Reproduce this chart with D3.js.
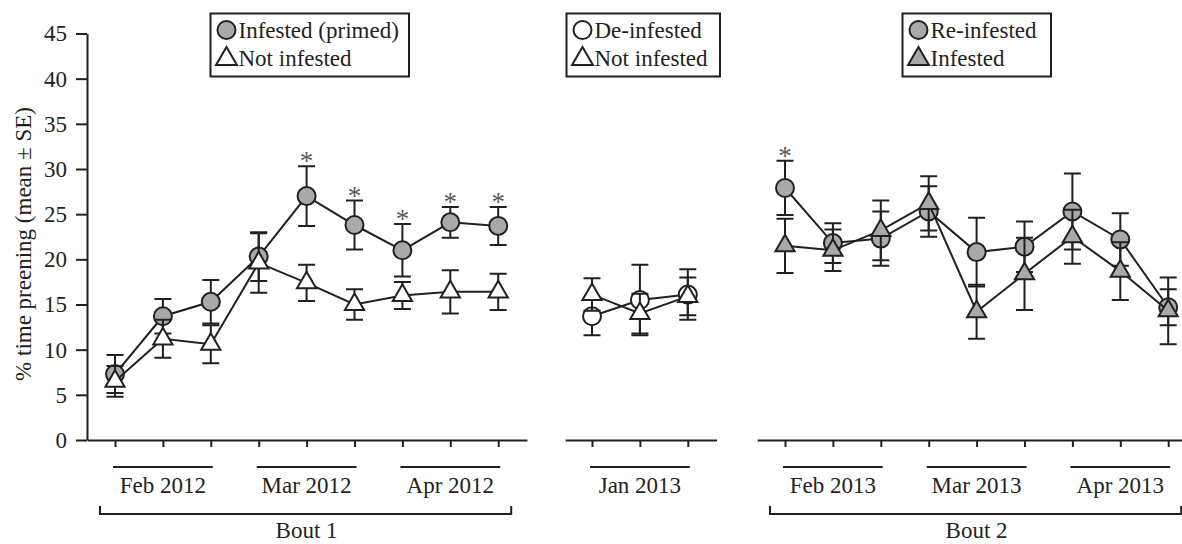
<!DOCTYPE html>
<html>
<head>
<meta charset="utf-8">
<script src="https://cdn.jsdelivr.net/npm/d3@7"></script>
<style>
  html, body { margin: 0; padding: 0; background: #fff; }
  svg { display: block; }
  svg text { font-family: "Liberation Serif", "Times New Roman", serif !important; }
</style>
</head>
<body>
<svg id="chart" width="1182" height="544" font-family="Liberation Serif, serif"></svg>
<script>
// ---------------- DATA ----------------
const yTicks = [0, 5, 10, 15, 20, 25, 30, 35, 40, 45];
const yTitle = "% time preening (mean ± SE)";

const bout1Months = ["Feb 2012", "Mar 2012", "Apr 2012"];
const bout1Primed = [7.3, 13.7, 15.3, 20.3, 27.0, 23.8, 21.0, 24.1, 23.7];
const bout1PrimedSE = [2.1, 1.9, 2.4, 2.7, 3.3, 2.7, 2.9, 1.7, 2.1];
const bout1Not = [6.5, 11.2, 10.6, 19.6, 17.4, 15.0, 16.0, 16.4, 16.4];
const bout1NotSE = [1.7, 2.1, 2.1, 3.3, 2.0, 1.7, 1.5, 2.4, 2.0];
const bout1Signif = [false, false, false, false, true, true, true, true, true];

const interMonths = ["Jan 2013"];
const interDeinfested = [13.7, 15.5, 16.1];
const interDeinfestedSE = [2.1, 3.9, 2.8];
const interNot = [16.1, 14.0, 15.9];
const interNotSE = [1.8, 2.2, 2.1];

const bout2Months = ["Feb 2013", "Mar 2013", "Apr 2013"];
const bout2Reinfested = [27.9, 21.8, 22.3, 25.3, 20.8, 21.4, 25.3, 22.2, 14.7];
const bout2ReinfestedSE = [3.0, 2.2, 3.0, 2.8, 3.8, 2.8, 4.2, 2.9, 2.0];
const bout2Infested = [21.5, 21.0, 23.2, 26.2, 14.2, 18.4, 22.5, 18.7, 14.3];
const bout2InfestedSE = [3.0, 2.3, 3.3, 3.0, 3.0, 4.0, 3.0, 3.2, 3.7];
const bout2Signif = [true, false, false, false, false, false, false, false, false];

const boutLabels = ["Bout 1", "Bout 2"];
const legend1 = ["Infested (primed)", "Not infested"];
const legend2 = ["De-infested", "Not infested"];
const legend3 = ["Re-infested", "Infested"];

// ---------------- STYLE ----------------
const INK = "#231f20";
const GREY = "#a7a9ac";
const FONT = '"Liberation Serif", "Times New Roman", serif';
const FS = 23;
const SW = 2;
const STEP = 47.9;
const CAP = 8.5;
const R = 9;
const TRI = 160;

const svg = d3.select("#chart");
const y = d3.scaleLinear().domain([0, 45]).range([440, 33.5]);
const xAxisY = 440;

function makeX(first, lo, hi) {
  return d3.scaleLinear().domain([lo, hi]).range([first + lo * STEP, first + hi * STEP]);
}

function txt(sel) {
  return sel.style("font-family", FONT).style("font-size", FS + "px").style("fill", INK);
}

// Y axis
const yAxis = svg.append("g").attr("transform", "translate(87,0)")
  .call(d3.axisLeft(y).tickValues(yTicks).tickSize(11).tickPadding(9).tickSizeOuter(0));
yAxis.attr("font-family", null).attr("font-size", null);
yAxis.selectAll("path, line").attr("stroke", INK).attr("stroke-width", SW);
txt(yAxis.selectAll("text"));

txt(svg.append("text")
  .attr("transform", "translate(31,244) rotate(-90)")
  .attr("text-anchor", "middle"))
  .text(yTitle);

function panel(cfg) {
  const x = makeX(cfg.first, cfg.lo, cfg.hi);
  const n = cfg.seriesA.values.length;
  const idx = d3.range(n);
  const g = svg.append("g");

  // x axis
  const ax = g.append("g").attr("transform", `translate(0,${xAxisY})`)
    .call(d3.axisBottom(x).tickValues(idx).tickSize(7).tickSizeOuter(0).tickFormat(""));
  ax.selectAll("path, line").attr("stroke", INK).attr("stroke-width", SW);

  // month groups
  cfg.months.forEach((m, k) => {
    const i0 = k * 3;
    g.append("line")
      .attr("x1", x(i0) - 2).attr("x2", x(i0 + 2) + 2)
      .attr("y1", 467).attr("y2", 467)
      .attr("stroke", INK).attr("stroke-width", SW);
    txt(g.append("text")
      .attr("x", x(i0 + 1)).attr("y", 493)
      .attr("text-anchor", "middle"))
      .text(m);
  });

  // bout bracket
  if (cfg.bout) {
    const bx0 = x(0) - 15, bx1 = x(n - 1) + 13;
    g.append("path")
      .attr("d", `M${bx0},506V514H${bx1}V506`)
      .attr("fill", "none").attr("stroke", INK).attr("stroke-width", SW);
    txt(g.append("text")
      .attr("x", (x(0) + x(n - 1)) / 2).attr("y", 538)
      .attr("text-anchor", "middle"))
      .text(cfg.bout);
  }

  function drawSeries(s, symbolType) {
    const sg = g.append("g");
    idx.forEach(i => {
      const v = s.values[i], e = s.se[i];
      const cx = x(i);
      sg.append("path")
        .attr("d", `M${cx},${y(v + e)}V${y(v - e)}M${cx - CAP},${y(v + e)}H${cx + CAP}M${cx - CAP},${y(v - e)}H${cx + CAP}`)
        .attr("fill", "none").attr("stroke", INK).attr("stroke-width", SW);
    });
    sg.append("path")
      .datum(idx)
      .attr("d", d3.line().x(i => x(i)).y(i => y(s.values[i])))
      .attr("fill", "none").attr("stroke", INK).attr("stroke-width", SW);
    sg.selectAll(".m").data(idx).join("path")
      .attr("transform", i => `translate(${x(i)},${y(s.values[i])})`)
      .attr("d", symbolType === "circle"
        ? d3.symbol().type(d3.symbolCircle).size(Math.PI * R * R)()
        : d3.symbol().type(d3.symbolTriangle).size(TRI)())
      .attr("fill", s.fill).attr("stroke", INK).attr("stroke-width", SW);
  }

  drawSeries(cfg.seriesA, "circle");
  drawSeries(cfg.seriesB, "triangle");

  if (cfg.signif) {
    idx.filter(i => cfg.signif[i]).forEach(i => {
      g.append("text")
        .attr("x", x(i)).attr("y", y(cfg.seriesA.values[i] + cfg.seriesA.se[i]) + 4)
        .attr("text-anchor", "middle")
        .style("font-family", FONT)
        .style("font-size", "27px")
        .style("fill", "#58595b")
        .text("*");
    });
  }

  // legend
  const L = cfg.legend;
  g.append("rect")
    .attr("x", L.x0).attr("y", 13.5)
    .attr("width", L.x1 - L.x0).attr("height", 63)
    .attr("fill", "#fff").attr("stroke", INK).attr("stroke-width", SW);
  const mx = L.x0 + 16;
  g.append("path")
    .attr("transform", `translate(${mx},30)`)
    .attr("d", d3.symbol().type(d3.symbolCircle).size(Math.PI * R * R)())
    .attr("fill", cfg.seriesA.fill).attr("stroke", INK).attr("stroke-width", SW);
  g.append("path")
    .attr("transform", `translate(${mx},59)`)
    .attr("d", d3.symbol().type(d3.symbolTriangle).size(190)())
    .attr("fill", cfg.seriesB.fill).attr("stroke", INK).attr("stroke-width", SW);
  txt(g.append("text").attr("x", mx + 12).attr("y", 37.5)).text(L.labels[0]);
  txt(g.append("text").attr("x", mx + 12).attr("y", 65.5)).text(L.labels[1]);
}

panel({
  first: 115, lo: -0.58, hi: 8.6,
  months: bout1Months, bout: boutLabels[0],
  seriesA: { values: bout1Primed, se: bout1PrimedSE, fill: GREY },
  seriesB: { values: bout1Not, se: bout1NotSE, fill: "#fff" },
  signif: bout1Signif,
  legend: { x0: 210.5, x1: 409, labels: legend1 }
});

panel({
  first: 592, lo: -0.56, hi: 2.6,
  months: interMonths, bout: null,
  seriesA: { values: interDeinfested, se: interDeinfestedSE, fill: "#fff" },
  seriesB: { values: interNot, se: interNotSE, fill: "#fff" },
  signif: null,
  legend: { x0: 566.5, x1: 720, labels: legend2 }
});

panel({
  first: 785, lo: -0.58, hi: 8.3,
  months: bout2Months, bout: boutLabels[1],
  seriesA: { values: bout2Reinfested, se: bout2ReinfestedSE, fill: GREY },
  seriesB: { values: bout2Infested, se: bout2InfestedSE, fill: GREY },
  signif: bout2Signif,
  legend: { x0: 902.5, x1: 1051, labels: legend3 }
});
</script>
</body>
</html>
